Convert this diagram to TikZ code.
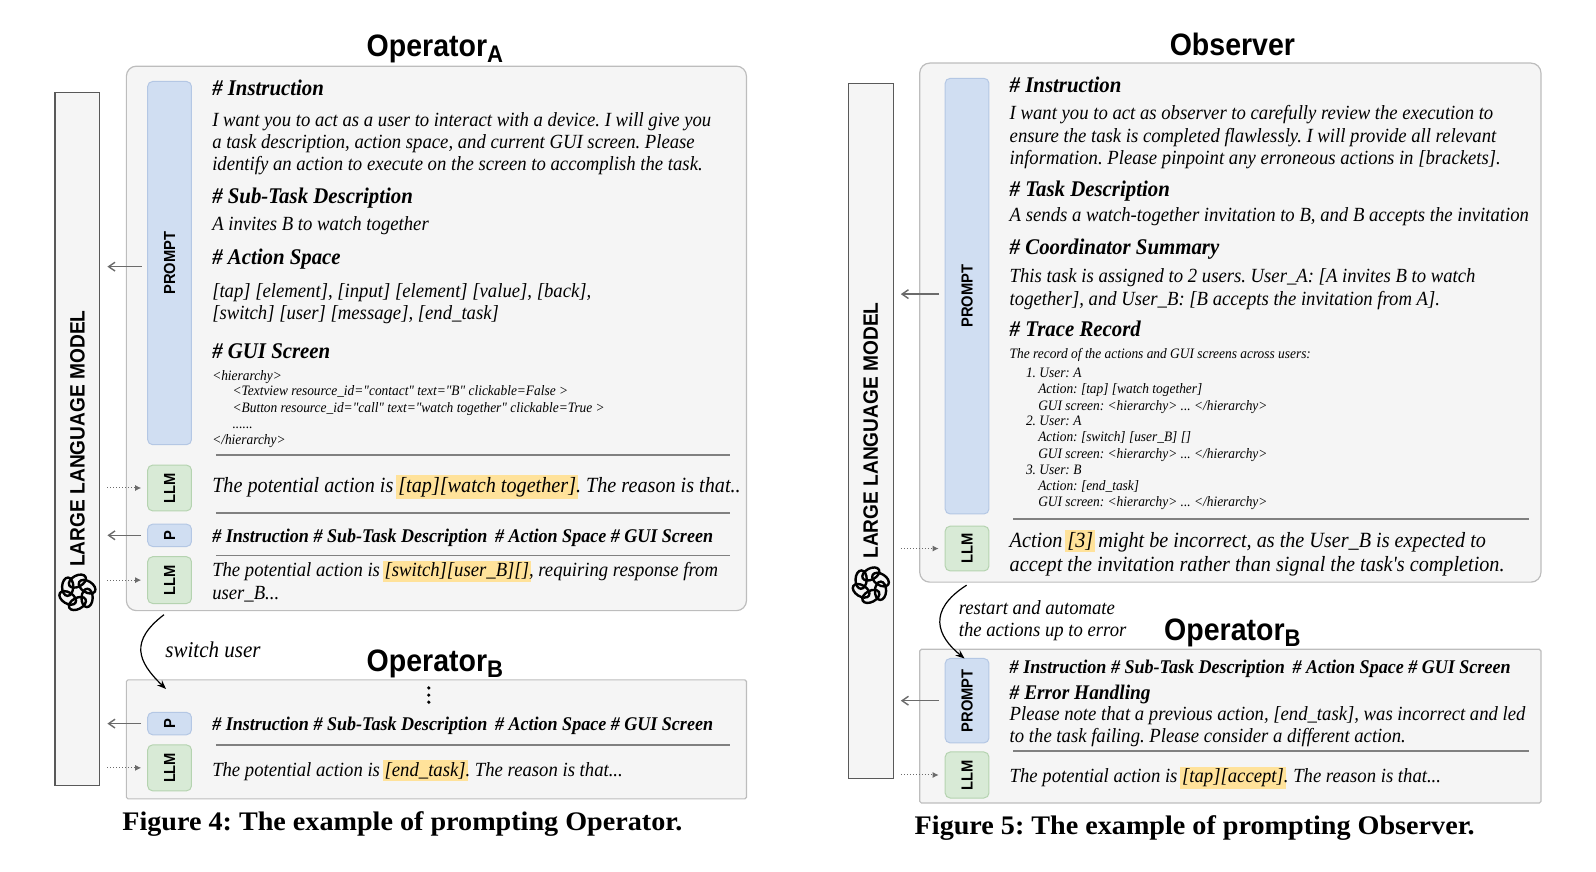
\documentclass[tikz,border=0pt]{standalone}
\usepackage{fontspec}
\setmainfont{Liberation Serif}[FakeStretch=.93,Ligatures=TeXOff]
\setsansfont{Liberation Sans}
\newfontfamily\capfont{Liberation Serif}[FakeStretch=1.05]
\newfontfamily\titlefont{Liberation Sans}[FakeStretch=.92]
\usetikzlibrary{arrows.meta}
\definecolor{panelfill}{HTML}{F5F5F5}
\definecolor{panelline}{HTML}{BDBDBD}
\definecolor{promptfill}{HTML}{D0DEF2}
\definecolor{promptline}{HTML}{B4C7E4}
\definecolor{llmfill}{HTML}{D8EAD6}
\definecolor{llmline}{HTML}{B5D3B0}
\definecolor{markfill}{HTML}{FFE29A}
\frenchspacing
\newcommand{\hlmark}[1]{{\setlength{\fboxsep}{1pt}\kern-1pt\colorbox{markfill}{#1}\kern-1pt}}
\newcommand{\vtext}[1]{\rotatebox{90}{#1}}
\tikzset{
  panelbox/.style={draw=panelline,fill=panelfill,line width=.6pt,rounded corners=5pt,inner sep=0pt,minimum width=#1},
  flatpanel/.style={draw=panelline,fill=panelfill,line width=.6pt,rounded corners=.8pt,inner sep=0pt,minimum width=#1},
  barbox/.style={draw=black!65,fill=panelfill,line width=.6pt,inner sep=0pt,minimum width=22.4pt,minimum height=#1},
  promptbox/.style={draw=promptline,fill=promptfill,rounded corners=2.5pt,line width=.5pt,inner sep=0pt,minimum width=21.9pt,minimum height=#1,font=\titlefont\bfseries\fontsize{8}{9}\selectfont},
  llmbox/.style={draw=llmline,fill=llmfill,rounded corners=2.5pt,line width=.5pt,inner sep=0pt,minimum width=21.9pt,minimum height=#1,font=\titlefont\bfseries\fontsize{8}{9}\selectfont},
  linetext/.style={anchor=west,inner sep=0pt,text height=7.2pt,text depth=2.2pt,yshift=-1pt},
  headtext/.style={linetext,font=\bfseries\itshape\fontsize{11.2}{12}\selectfont},
  tagtext/.style={linetext,font=\bfseries\itshape\fontsize{9.7}{10}\selectfont},
  bodytext/.style={linetext,font=\itshape\fontsize{10.05}{11}\selectfont},
  bigtext/.style={linetext,font=\itshape\fontsize{10.85}{12}\selectfont},
  tinytext/.style={anchor=west,inner sep=0pt,text height=5pt,text depth=1.5pt,yshift=-.3pt,font=\itshape\fontsize{7.2}{8}\selectfont},
  titletext/.style={inner sep=0pt,font=\titlefont\bfseries\fontsize{15.5}{17}\selectfont},
  bartext/.style={inner sep=0pt,font=\titlefont\bfseries\fontsize{10.4}{12}\selectfont},
  captext/.style={inner sep=0pt,font=\capfont\bfseries\fontsize{13.4}{15}\selectfont},
  rule/.style={draw=black!50,line width=.6pt},
  toward/.style={draw=black!58,line width=.7pt,-{Straight Barb[length=3.2pt,width=4.4pt]},shorten <=3pt,shorten >=3.5pt},
  fromllm/.style={draw=black!58,line width=.5pt,densely dotted,-{Latex[length=3pt,width=3pt]},shorten <=3.5pt,shorten >=3pt},
  turn/.style={draw=black,line width=.6pt,-{Stealth[length=4.5pt,width=3.5pt]}}
}
\newcommand{\gptknot}[1]{%
  \foreach \a in {0,60,...,300}
    \draw[line width=1.2pt,shift={(#1)},rotate=\a] (0,-11) ellipse [x radius=9,y radius=5.5,rotate=28];
}
\begin{document}
\begin{tikzpicture}[x=.5092pt,y=-.5088pt]
  \useasboundingbox (0,0) rectangle (1567,856);
  % left figure
  \node (barA) [barbox=346.5pt] at (76,431.5) {};
  \node (barTextA) [bartext] at (76,431) {\vtext{LARGE LANGUAGE MODEL}};
  \gptknot{76,582}
  \node (titleA) [titletext] at (427,48.5) {Operator\raisebox{-3pt}{\fontsize{12}{12}\selectfont A}};
  \node (panelA) [panelbox=310pt,minimum height=272.2pt] at (428.5,332.5) {};
  \node (promptA) [promptbox=181.6pt] at (166.5,258.5) {\vtext{PROMPT}};
  \node (llmA) [llmbox=22.9pt] at (166.5,479.5) {\vtext{LLM}};
  \node (pA) [promptbox=11.2pt] at (166.5,526) {\vtext{P}};
  \node (llmAA) [llmbox=23.4pt] at (166.5,570) {\vtext{LLM}};
  \node (h1) [headtext] at (208,87) {\# Instruction};
  \node (b1) [bodytext] at (208,117) {I want you to act as a user to interact with a device. I will give you};
  \node (b2) [bodytext] at (208,139) {a task description, action space, and current GUI screen. Please};
  \node (b3) [bodytext] at (208,161) {identify an action to execute on the screen to accomplish the task.};
  \node (h2) [headtext] at (208,193) {\# Sub-Task Description};
  \node (b4) [bodytext] at (208,220) {A invites B to watch together};
  \node (h3) [headtext] at (208,253) {\# Action Space};
  \node (b5) [bodytext] at (208,285) {[tap] [element], [input] [element] [value], [back],};
  \node (b6) [bodytext] at (208,307) {[switch] [user] [message], [end\_task]};
  \node (h4) [headtext] at (208,345) {\# GUI Screen};
  \node (s1) [tinytext] at (208,370) {<hierarchy>};
  \node (s2) [tinytext] at (228,385) {<Textview resource\_id="contact" text="B" clickable=False >};
  \node (s3) [tinytext] at (228,401) {<Button resource\_id="call" text="watch together" clickable=True >};
  \node (s4) [tinytext] at (228,417) {......};
  \node (s5) [tinytext] at (208,433) {</hierarchy>};
  \node (o1) [bigtext] at (208,477) {The potential action is \hlmark{[tap][watch together]}. The reason is that..};
  \node (t1) [tagtext] at (208,526) {\# Instruction \# Sub-Task Description\, \# Action Space \# GUI Screen};
  \node (o2) [bodytext] at (208,560) {The potential action is \hlmark{[switch][user\_B][]}, requiring response from};
  \node (o3) [bodytext] at (208,582) {user\_B...};
  \foreach \y in {447,504,546}
    \draw[rule] (212,\y) -- (717,\y);
  \coordinate (tapA) at (145,262);
  \draw[toward] (tapA) -- (tapA -| barA.east);
  \draw[fromllm] (barA.east |- llmA) -- (llmA.west);
  \draw[toward] (pA.west) -- (pA.west -| barA.east);
  \draw[fromllm] (barA.east |- llmAA) -- (llmAA.west);
  \coordinate (fromA) at (161,604);
  \coordinate (intoB) at (163,677);
  \node (swText) [bodytext,font=\itshape\fontsize{11.3}{12}\selectfont] at (162,639) {switch user};
  \node (titleB) [titletext] at (427,652) {Operator\raisebox{-3pt}{\fontsize{12}{12}\selectfont B}};
  \node (panelB) [flatpanel=310pt,minimum height=59.5pt] at (428.5,726.5) {};
  \draw[turn] (fromA) .. controls (127,630) and (135,650) .. (intoB);
  \foreach \y in {676,683,690}
    \fill (421,\y) circle (.9pt);
  \node (pB) [promptbox=11.2pt] at (166.5,711) {\vtext{P}};
  \node (llmB) [llmbox=23pt] at (166.5,754.5) {\vtext{LLM}};
  \node (t2) [tagtext] at (208,711) {\# Instruction \# Sub-Task Description\, \# Action Space \# GUI Screen};
  \node (o4) [bodytext] at (208,756) {The potential action is \hlmark{[end\_task]}. The reason is that...};
  \draw[rule] (212,732) -- (717,732);
  \draw[toward] (pB.west) -- (pB.west -| barA.east);
  \draw[fromllm] (barA.east |- llmB) -- (llmB.west);
  \node (capA) [captext] at (395,810) {Figure 4: The example of prompting Operator.};
  % right figure
  \node (barR) [barbox=347.5pt] at (855,423.5) {};
  \node (barTextR) [bartext] at (855,423) {\vtext{LARGE LANGUAGE MODEL}};
  \gptknot{855,575}
  \node (titleR) [titletext] at (1210,44) {Observer};
  \node (panelR) [panelbox=310.6pt,minimum height=259.5pt] at (1208,317) {};
  \node (promptR) [promptbox=217.8pt] at (949.5,291) {\vtext{PROMPT}};
  \node (llmR) [llmbox=22.4pt] at (949.5,539) {\vtext{LLM}};
  \node (rh1) [headtext] at (991,84) {\# Instruction};
  \node (r1) [bodytext] at (991,111) {I want you to act as observer to carefully review the execution to};
  \node (r2) [bodytext] at (991,133) {ensure the task is completed flawlessly. I will provide all relevant};
  \node (r3) [bodytext] at (991,155) {information. Please pinpoint any erroneous actions in [brackets].};
  \node (rh2) [headtext] at (991,186) {\# Task Description};
  \node (r4) [bodytext] at (991,211) {A sends a watch-together invitation to B, and B accepts the invitation};
  \node (rh3) [headtext] at (991,243) {\# Coordinator Summary};
  \node (r5) [bodytext] at (991,271) {This task is assigned to 2 users. User\_A: [A invites B to watch};
  \node (r6) [bodytext] at (991,293) {together], and User\_B: [B accepts the invitation from A].};
  \node (rh4) [headtext] at (991,324) {\# Trace Record};
  \node (q0) [tinytext] at (991,348) {The record of the actions and GUI screens across users:};
  \node (q1) [tinytext] at (1007,367) {1. User: A};
  \node (q2) [tinytext] at (1019,383) {Action: [tap] [watch together]};
  \node (q3) [tinytext] at (1019,399) {GUI screen: <hierarchy> ... </hierarchy>};
  \node (q4) [tinytext] at (1007,414) {2. User: A};
  \node (q5) [tinytext] at (1019,430) {Action: [switch] [user\_B] []};
  \node (q6) [tinytext] at (1019,446) {GUI screen: <hierarchy> ... </hierarchy>};
  \node (q7) [tinytext] at (1007,462) {3. User: B};
  \node (q8) [tinytext] at (1019,478) {Action: [end\_task]};
  \node (q9) [tinytext] at (1019,494) {GUI screen: <hierarchy> ... </hierarchy>};
  \node (r7) [bigtext] at (991,531) {Action \hlmark{[3]} might be incorrect, as the User\_B is expected to};
  \node (r8) [bigtext] at (991,555) {accept the invitation rather than signal the task's completion.};
  \draw[rule] (995,510) -- (1501,510);
  \coordinate (tapR) at (928,289);
  \draw[toward] (tapR) -- (tapR -| barR.east);
  \draw[fromllm] (barR.east |- llmR) -- (llmR.west);
  \coordinate (fromR) at (949,575);
  \coordinate (intoP) at (947,647);
  \node (reText) [bodytext] at (941,597) {restart and automate};
  \node (reTextB) [bodytext] at (941,619) {the actions up to error};
  \node (titleS) [titletext] at (1210,622) {Operator\raisebox{-3pt}{\fontsize{12}{12}\selectfont B}};
  \node (panelS) [flatpanel=310.6pt,minimum height=76.8pt] at (1208,713.5) {};
  \node (promptS) [promptbox=42.2pt] at (949.5,688.5) {\vtext{PROMPT}};
  \node (llmS) [llmbox=23pt] at (949.5,761.5) {\vtext{LLM}};
  \draw[turn] (fromR) .. controls (910,600) and (920,625) .. (intoP);
  \node (t3) [tagtext] at (991,655) {\# Instruction \# Sub-Task Description\, \# Action Space \# GUI Screen};
  \node (rh5) [tagtext,font=\bfseries\itshape\fontsize{10.4}{12}\selectfont] at (991,680) {\# Error Handling};
  \node (r9) [bodytext] at (991,701) {Please note that a previous action, [end\_task], was incorrect and led};
  \node (r10) [bodytext] at (991,723) {to the task failing. Please consider a different action.};
  \node (r11) [bodytext] at (991,762) {The potential action is \hlmark{[tap][accept]}. The reason is that...};
  \draw[rule] (995,738) -- (1501,738);
  \draw[toward] (promptS.west) -- (promptS.west -| barR.east);
  \draw[fromllm] (barR.east |- llmS) -- (llmS.west);
  \node (capR) [captext] at (1173,814) {Figure 5: The example of prompting Observer.};
\end{tikzpicture}
\end{document}
